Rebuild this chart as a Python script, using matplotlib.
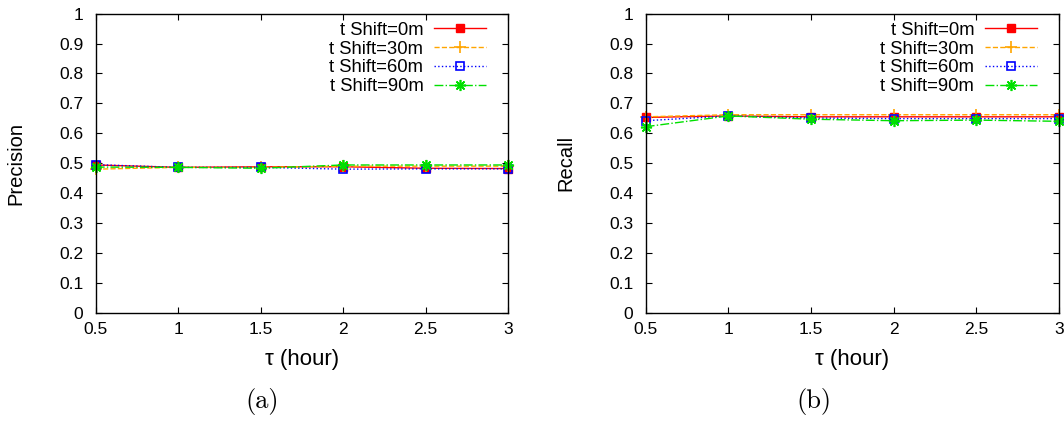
import matplotlib
matplotlib.use('Agg')
import matplotlib.pyplot as plt

plt.rcParams['font.family'] = ['Liberation Sans', 'DejaVu Sans']

tau = [0.5, 1, 1.5, 2, 2.5, 3]
labels = ['t Shift=0m', 't Shift=30m', 't Shift=60m', 't Shift=90m']

# precision, one list per time shift
prec_0 = [0.494, 0.486, 0.488, 0.488, 0.483, 0.482]
prec_30 = [0.480, 0.486, 0.486, 0.490, 0.490, 0.490]
prec_60 = [0.495, 0.486, 0.486, 0.480, 0.481, 0.481]
prec_90 = [0.487, 0.486, 0.483, 0.494, 0.494, 0.494]

# recall
rec_0 = [0.653, 0.658, 0.655, 0.655, 0.655, 0.655]
rec_30 = [0.655, 0.662, 0.662, 0.662, 0.662, 0.662]
rec_60 = [0.642, 0.658, 0.651, 0.649, 0.649, 0.649]
rec_90 = [0.622, 0.658, 0.647, 0.642, 0.644, 0.640]

styles = [
    dict(color='#ff0000', ls='-', marker='s', ms=6, mfc='#ff0000', mec='#ff0000'),
    dict(color='#ffa500', ls='--', marker='+', ms=8, mew=1.2),
    dict(color='#0000ff', ls=':', marker='s', ms=6, mfc='none', mec='#0000ff', mew=1.2),
    dict(color='#00e000', ls='-.', marker=(8, 2, 0), ms=8, mew=1.2),
]

fig = plt.figure(figsize=(10.64, 4.23), dpi=100)
ax1 = fig.add_axes([0.090, 0.2608, 0.3875, 0.7069])
ax2 = fig.add_axes([0.6069, 0.2608, 0.3884, 0.7069])


def draw(ax, series, ylabel):
    for ys, st, lab in zip(series, styles, labels):
        ax.plot(tau, ys, lw=1, label=lab, clip_on=False, **st)
    ax.set_xlim(0.5, 3)
    ax.set_ylim(0, 1)
    ax.set_xticks(tau)
    ax.set_xticklabels(['0.5', '1', '1.5', '2', '2.5', '3'])
    ax.set_yticks([i / 10 for i in range(11)])
    ax.set_yticklabels(['0', '0.1', '0.2', '0.3', '0.4', '0.5', '0.6', '0.7', '0.8', '0.9', '1'])
    ax.tick_params(direction='in', length=4, width=0.8, top=True, right=True,
                   labelsize=12.5, pad=7)
    ax.tick_params(axis='y', pad=9)
    for s in ax.spines.values():
        s.set_linewidth(1)
    ax.set_ylabel(ylabel, fontsize=14.5, labelpad=24)
    ax.set_xlabel('τ (hour)', fontsize=16, labelpad=8)
    ax.legend(loc='upper right', bbox_to_anchor=(0.947, 0.973), frameon=False,
              markerfirst=False, fontsize=13.3, handlelength=2.8, handletextpad=0.6,
              labelspacing=0.1, borderpad=0, borderaxespad=0)


draw(ax1, [prec_0, prec_30, prec_60, prec_90], 'Precision')
draw(ax2, [rec_0, rec_30, rec_60, rec_90], 'Recall')

fig.text(0.246, 0.05, '(a)', ha='center', va='center', fontsize=19, family='cmr10')
fig.text(0.765, 0.05, '(b)', ha='center', va='center', fontsize=19, family='cmr10')

fig.savefig('out.png', dpi=100)
